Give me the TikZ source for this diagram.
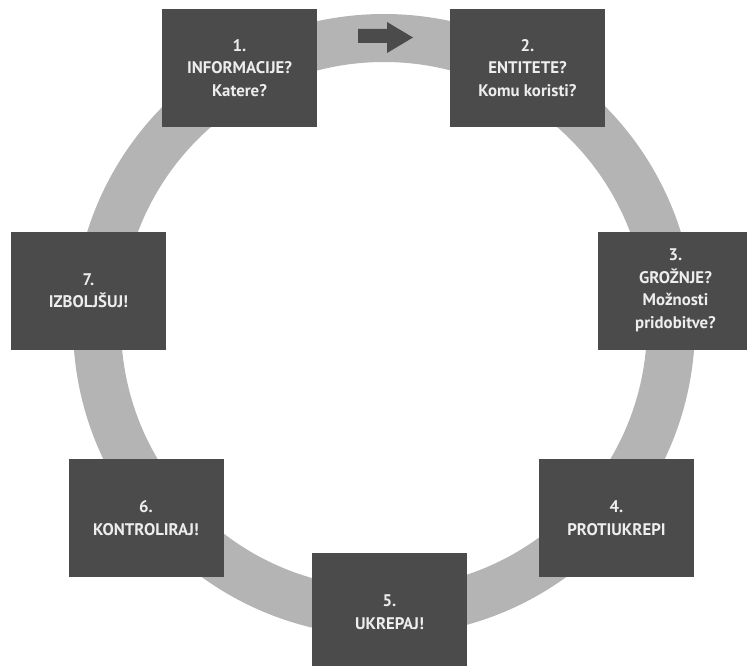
\documentclass[tikz,border=0pt]{standalone}
\usepackage{fontspec}
\setmainfont{PT Sans}
\definecolor{ringgray}{HTML}{B4B4B4}
\definecolor{boxgray}{HTML}{4B4B4B}
\definecolor{boxtext}{HTML}{EDEDED}
\tikzset{
  stepbox/.style={fill=boxgray, draw=none, minimum width=155pt, minimum height=118pt,
    inner sep=0pt, align=center, text=boxtext,
    font=\fontsize{16.8}{22.5}\selectfont\bfseries},
  cycle ring/.style={draw=ringgray, line width=48pt}
}
\begin{document}
\begin{tikzpicture}[x=1pt, y=-1pt]
  \useasboundingbox (0,0) rectangle (747,666);
  \clip (0,0) rectangle (747,666);
  % the cycle
  \coordinate (centre) at (384,325);
  \draw[cycle ring] (centre) circle[radius=287];
  % direction arrow on the top of the ring
  \fill[boxgray] (358,29) -- (387,29) -- (387,22) -- (413,37.5) -- (387,53) -- (387,43) -- (358,43) -- cycle;
  % the seven steps
  \node[stepbox] (s1) at (239.5,68)  {1.\\INFORMACIJE?\\Katere?};
  \node[stepbox] (s2) at (527.5,68)  {2.\\ENTITETE?\\Komu koristi?};
  \node[stepbox] (s3) at (675.5,290.5) {3.\\GROŽNJE?\\Možnosti\\pridobitve?};
  \node[stepbox] (s4) at (616.5,518) {4.\\PROTIUKREPI};
  \node[stepbox] (s5) at (389.5,612) {5.\\UKREPAJ!};
  \node[stepbox] (s6) at (146,518)   {6.\\KONTROLIRAJ!};
  \node[stepbox] (s7) at (88.5,290.5) {7.\\IZBOLJŠUJ!};
\end{tikzpicture}
\end{document}
